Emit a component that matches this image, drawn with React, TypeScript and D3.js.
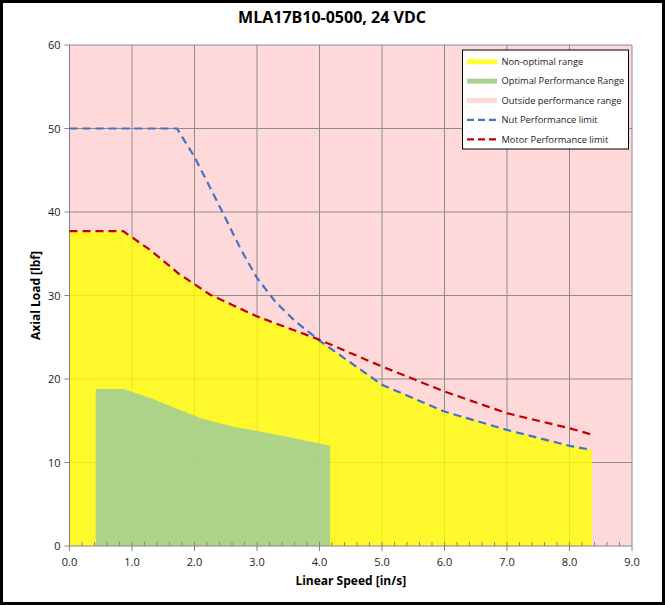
import { useEffect, useRef } from 'react';
import * as d3 from 'd3';

// chart values
const speedOutside = [0, 9];
const loadOutside = [60, 60];

const speedYellow = [0, 0.86, 1.3, 1.75, 2.25, 3.0, 4.0, 5.0, 6.0, 7.0, 8.0, 8.36];
const loadYellow = [37.7, 37.7, 35.4, 32.6, 30.1, 27.5, 24.6, 19.3, 16.1, 13.9, 12.0, 11.5];

const speedGreen = [0.42, 0.87, 1.3, 2.1, 2.6, 3.05, 3.6, 4.17];
const loadGreen = [18.8, 18.8, 17.7, 15.3, 14.3, 13.7, 12.9, 12.0];

const speedNut = [0, 1.72, 2.0, 2.4, 2.75, 3.0, 3.3, 3.6, 4.0, 5.0, 6.0, 7.0, 8.0, 8.36];
const loadNut = [50, 50, 46.6, 40.7, 35.4, 32.1, 29.2, 27.0, 24.6, 19.3, 16.1, 13.9, 12.0, 11.5];

const speedMotor = [0, 0.86, 1.3, 1.75, 2.25, 3.0, 4.0, 5.0, 6.0, 7.0, 7.5, 8.0, 8.33];
const loadMotor = [37.7, 37.7, 35.4, 32.6, 30.1, 27.5, 24.7, 21.5, 18.5, 15.9, 15.0, 14.1, 13.4];

const xTicks = [0, 1, 2, 3, 4, 5, 6, 7, 8, 9];
const yTicks = [0, 10, 20, 30, 40, 50, 60];

const legendLabels = [
  'Non-optimal range',
  'Optimal Performance Range',
  'Outside performance range',
  'Nut Performance limit',
  'Motor Performance limit',
];

const W = 665;
const H = 605;
const FONT = '"Open Sans", "Liberation Sans", sans-serif';

export default function App() {
  const svgRef = useRef<SVGSVGElement>(null);

  useEffect(() => {
    document.body.style.margin = '0';
    if (!svgRef.current) return;
    const svg = d3.select(svgRef.current);
    svg.selectAll('*').remove();

    const x = d3.scaleLinear().domain([0, 9]).range([69.5, 632]);
    const y = d3.scaleLinear().domain([0, 60]).range([546, 45]);

    const pts = (xs: number[], ys: number[]) => xs.map((v, i) => [v, ys[i]] as [number, number]);
    const area = d3.area<[number, number]>()
      .x(d => x(d[0]))
      .y0(y(0))
      .y1(d => y(d[1]));
    const line = d3.line<[number, number]>()
      .x(d => x(d[0]))
      .y(d => y(d[1]));

    svg.append('rect')
      .attr('x', 1.5).attr('y', 1.5)
      .attr('width', W - 3).attr('height', H - 3)
      .attr('fill', '#fff')
      .attr('stroke', '#000')
      .attr('stroke-width', 3);

    // pink background series
    svg.append('path')
      .attr('d', area(pts(speedOutside, loadOutside)))
      .attr('fill', '#FFD9DA');

    // gridlines
    svg.append('g').selectAll('line')
      .data(xTicks.slice(1))
      .join('line')
      .attr('x1', d => x(d)).attr('x2', d => x(d))
      .attr('y1', y(0)).attr('y2', y(60))
      .attr('stroke', '#8c8c8c')
      .attr('stroke-width', 1);
    svg.append('g').selectAll('line')
      .data(yTicks.slice(1))
      .join('line')
      .attr('x1', x(0)).attr('x2', x(9))
      .attr('y1', d => y(d)).attr('y2', d => y(d))
      .attr('stroke', '#8c8c8c')
      .attr('stroke-width', 1);

    svg.append('path')
      .attr('d', area(pts(speedYellow, loadYellow)))
      .attr('fill', '#FFFF00')
      .attr('fill-opacity', 0.8);

    svg.append('path')
      .attr('d', area(pts(speedGreen, loadGreen)))
      .attr('fill', '#A9D18E')
      .attr('fill-opacity', 0.95);

    // axes
    const axisColor = '#868686';
    svg.append('line')
      .attr('x1', x(0)).attr('x2', x(0))
      .attr('y1', y(0)).attr('y2', y(60))
      .attr('stroke', axisColor);
    svg.append('line')
      .attr('x1', x(0)).attr('x2', x(9))
      .attr('y1', y(0)).attr('y2', y(0))
      .attr('stroke', axisColor);

    svg.append('g').selectAll('line')
      .data(yTicks)
      .join('line')
      .attr('x1', x(0) - 5).attr('x2', x(0))
      .attr('y1', d => y(d)).attr('y2', d => y(d))
      .attr('stroke', axisColor);
    svg.append('g').selectAll('line')
      .data(xTicks)
      .join('line')
      .attr('x1', d => x(d)).attr('x2', d => x(d))
      .attr('y1', y(0)).attr('y2', y(0) + 5)
      .attr('stroke', axisColor);
    svg.append('g').selectAll('line')
      .data(d3.range(0, 45).map(i => i * 0.2))
      .join('line')
      .attr('x1', d => x(d)).attr('x2', d => x(d))
      .attr('y1', y(0) - 4).attr('y2', y(0))
      .attr('stroke', axisColor);

    svg.append('g').selectAll('text')
      .data(yTicks)
      .join('text')
      .attr('x', x(0) - 9)
      .attr('y', d => y(d) + 4)
      .attr('text-anchor', 'end')
      .attr('font-family', FONT)
      .attr('font-size', 11)
      .attr('fill', '#222')
      .text(d => d);
    svg.append('g').selectAll('text')
      .data(xTicks)
      .join('text')
      .attr('x', d => x(d))
      .attr('y', y(0) + 20)
      .attr('text-anchor', 'middle')
      .attr('font-family', FONT)
      .attr('font-size', 11)
      .attr('fill', '#222')
      .text(d => d.toFixed(1));

    // limit lines
    svg.append('path')
      .attr('d', line(pts(speedNut, loadNut)))
      .attr('fill', 'none')
      .attr('stroke', '#4472C4')
      .attr('stroke-width', 2.2)
      .attr('stroke-dasharray', '8,5');
    svg.append('path')
      .attr('d', line(pts(speedMotor, loadMotor)))
      .attr('fill', 'none')
      .attr('stroke', '#C00000')
      .attr('stroke-width', 2.2)
      .attr('stroke-dasharray', '8,5');

    // titles
    svg.append('text')
      .attr('x', 332).attr('y', 23)
      .attr('text-anchor', 'middle')
      .attr('font-family', FONT)
      .attr('font-weight', 'bold')
      .attr('font-size', 16)
      .text('MLA17B10-0500, 24 VDC');
    svg.append('text')
      .attr('x', (x(0) + x(9)) / 2).attr('y', 585)
      .attr('text-anchor', 'middle')
      .attr('font-family', FONT)
      .attr('font-weight', 'bold')
      .attr('font-size', 12)
      .text('Linear Speed [in/s]');
    svg.append('text')
      .attr('transform', `translate(40,${(y(0) + y(60)) / 2}) rotate(-90)`)
      .attr('text-anchor', 'middle')
      .attr('font-family', FONT)
      .attr('font-weight', 'bold')
      .attr('font-size', 12)
      .text('Axial Load [lbf]');

    // legend
    const lg = svg.append('g');
    lg.append('rect')
      .attr('x', 462.5).attr('y', 50)
      .attr('width', 166).attr('height', 99)
      .attr('fill', '#fff')
      .attr('stroke', '#000')
      .attr('stroke-width', 1);
    const swatches = [
      { color: '#FFFF00', opacity: 0.8, dash: null, w: 5 },
      { color: '#A9D18E', opacity: 1, dash: null, w: 5 },
      { color: '#FFD9DA', opacity: 1, dash: null, w: 5 },
      { color: '#4472C4', opacity: 1, dash: '7,4', w: 2.2 },
      { color: '#C00000', opacity: 1, dash: '7,4', w: 2.2 },
    ];
    const rows = lg.selectAll('g')
      .data(legendLabels)
      .join('g')
      .attr('transform', (_, i) => `translate(0,${61.7 + i * 19.4})`);
    rows.append('line')
      .attr('x1', 467).attr('x2', 497)
      .attr('y1', 0).attr('y2', 0)
      .attr('stroke', (_, i) => swatches[i].color)
      .attr('stroke-opacity', (_, i) => swatches[i].opacity)
      .attr('stroke-width', (_, i) => swatches[i].w)
      .attr('stroke-dasharray', (_, i) => swatches[i].dash);
    rows.append('text')
      .attr('x', 501.5).attr('y', 3.3)
      .attr('font-family', FONT)
      .attr('font-size', 9.3)
      .attr('fill', '#222')
      .text(d => d);
  }, []);

  return (
    <svg
      ref={svgRef}
      width={W}
      height={H}
      style={{ position: 'absolute', left: 0, top: 0, display: 'block' }}
    />
  );
}
